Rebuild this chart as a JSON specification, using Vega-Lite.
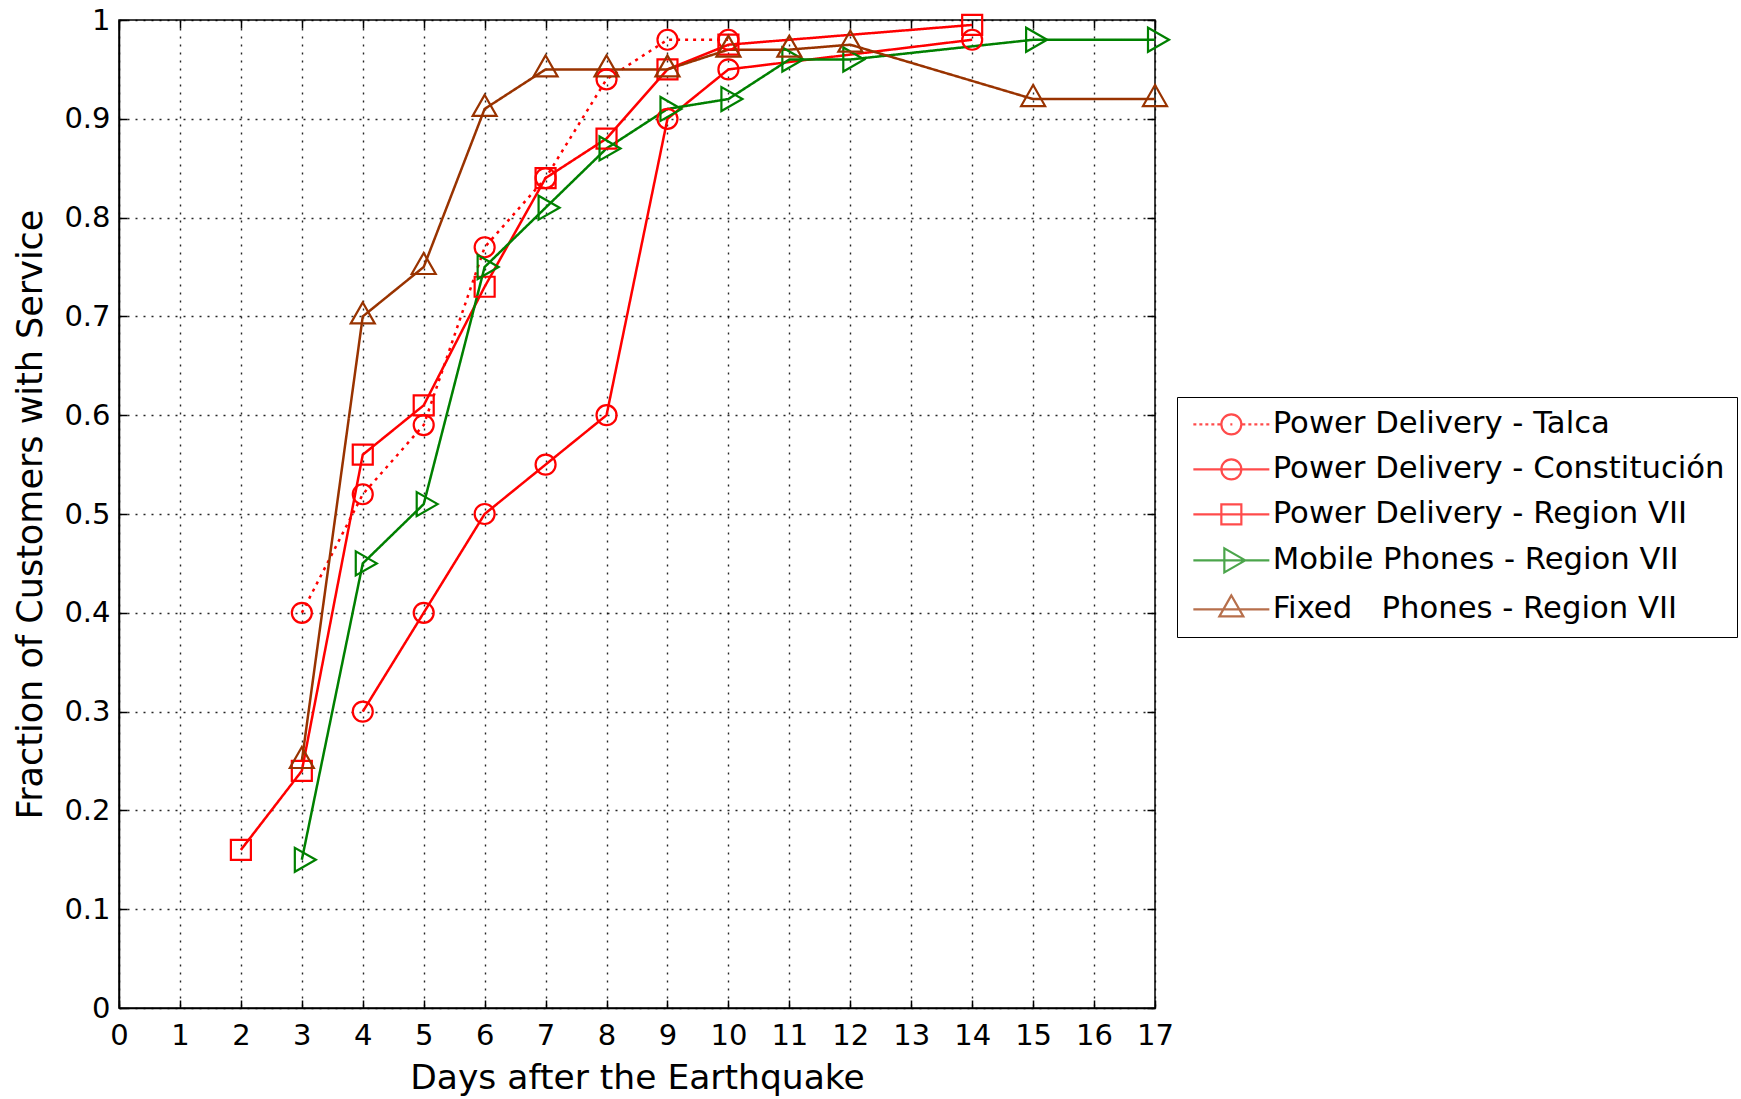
{
  "$schema": "https://vega.github.io/schema/vega-lite/v6.json",
  "width": 1036,
  "height": 988,
  "autosize": {"type": "none"},
  "padding": {"left": 119, "top": 20, "right": 586, "bottom": 91},
  "background": "white",
  "config": {
    "font": "DejaVu Sans",
    "view": {"stroke": "#000", "strokeWidth": 1.5},
    "axis": {
      "domainColor": "#000", "domainWidth": 1.5,
      "gridColor": "#000", "gridDash": [2, 6], "gridWidth": 1.4, "gridOpacity": 0.85,
      "labelColor": "#000", "labelFont": "DejaVu Sans",
      "titleColor": "#000", "titleFont": "DejaVu Sans", "titleFontWeight": "normal",
      "ticks": true, "tickSize": -8, "tickColor": "#000", "tickWidth": 1.5,
      "labelOverlap": false, "labelFlush": false
    }
  },
  "data": {"values": [
    {"series": "Power Delivery - Talca", "day": 3, "value": 0.40},
    {"series": "Power Delivery - Talca", "day": 4, "value": 0.52},
    {"series": "Power Delivery - Talca", "day": 5, "value": 0.59},
    {"series": "Power Delivery - Talca", "day": 6, "value": 0.77},
    {"series": "Power Delivery - Talca", "day": 7, "value": 0.84},
    {"series": "Power Delivery - Talca", "day": 8, "value": 0.94},
    {"series": "Power Delivery - Talca", "day": 9, "value": 0.98},
    {"series": "Power Delivery - Talca", "day": 10, "value": 0.98},
    {"series": "Power Delivery - Constitución", "day": 4, "value": 0.30},
    {"series": "Power Delivery - Constitución", "day": 5, "value": 0.40},
    {"series": "Power Delivery - Constitución", "day": 6, "value": 0.50},
    {"series": "Power Delivery - Constitución", "day": 7, "value": 0.55},
    {"series": "Power Delivery - Constitución", "day": 8, "value": 0.60},
    {"series": "Power Delivery - Constitución", "day": 9, "value": 0.90},
    {"series": "Power Delivery - Constitución", "day": 10, "value": 0.95},
    {"series": "Power Delivery - Constitución", "day": 14, "value": 0.98},
    {"series": "Power Delivery - Region VII", "day": 2, "value": 0.16},
    {"series": "Power Delivery - Region VII", "day": 3, "value": 0.24},
    {"series": "Power Delivery - Region VII", "day": 4, "value": 0.56},
    {"series": "Power Delivery - Region VII", "day": 5, "value": 0.61},
    {"series": "Power Delivery - Region VII", "day": 6, "value": 0.73},
    {"series": "Power Delivery - Region VII", "day": 7, "value": 0.84},
    {"series": "Power Delivery - Region VII", "day": 8, "value": 0.88},
    {"series": "Power Delivery - Region VII", "day": 9, "value": 0.95},
    {"series": "Power Delivery - Region VII", "day": 10, "value": 0.975},
    {"series": "Power Delivery - Region VII", "day": 14, "value": 0.995},
    {"series": "Mobile Phones - Region VII", "day": 3, "value": 0.15},
    {"series": "Mobile Phones - Region VII", "day": 4, "value": 0.45},
    {"series": "Mobile Phones - Region VII", "day": 5, "value": 0.51},
    {"series": "Mobile Phones - Region VII", "day": 6, "value": 0.75},
    {"series": "Mobile Phones - Region VII", "day": 7, "value": 0.81},
    {"series": "Mobile Phones - Region VII", "day": 8, "value": 0.87},
    {"series": "Mobile Phones - Region VII", "day": 9, "value": 0.91},
    {"series": "Mobile Phones - Region VII", "day": 10, "value": 0.92},
    {"series": "Mobile Phones - Region VII", "day": 11, "value": 0.96},
    {"series": "Mobile Phones - Region VII", "day": 12, "value": 0.96},
    {"series": "Mobile Phones - Region VII", "day": 15, "value": 0.98},
    {"series": "Mobile Phones - Region VII", "day": 17, "value": 0.98},
    {"series": "Fixed\u00a0\u00a0\u00a0Phones - Region VII", "day": 3, "value": 0.25},
    {"series": "Fixed\u00a0\u00a0\u00a0Phones - Region VII", "day": 4, "value": 0.70},
    {"series": "Fixed\u00a0\u00a0\u00a0Phones - Region VII", "day": 5, "value": 0.75},
    {"series": "Fixed\u00a0\u00a0\u00a0Phones - Region VII", "day": 6, "value": 0.91},
    {"series": "Fixed\u00a0\u00a0\u00a0Phones - Region VII", "day": 7, "value": 0.95},
    {"series": "Fixed\u00a0\u00a0\u00a0Phones - Region VII", "day": 8, "value": 0.95},
    {"series": "Fixed\u00a0\u00a0\u00a0Phones - Region VII", "day": 9, "value": 0.95},
    {"series": "Fixed\u00a0\u00a0\u00a0Phones - Region VII", "day": 10, "value": 0.97},
    {"series": "Fixed\u00a0\u00a0\u00a0Phones - Region VII", "day": 11, "value": 0.97},
    {"series": "Fixed\u00a0\u00a0\u00a0Phones - Region VII", "day": 12, "value": 0.975},
    {"series": "Fixed\u00a0\u00a0\u00a0Phones - Region VII", "day": 15, "value": 0.92},
    {"series": "Fixed\u00a0\u00a0\u00a0Phones - Region VII", "day": 17, "value": 0.92}
  ]},
  "resolve": {
    "scale": {"color": "independent", "shape": "independent", "strokeDash": "independent"},
    "axis": {"x": "independent", "y": "independent"}
  },
  "layer": [
    {
      "mark": {"type": "line", "strokeWidth": 2.5},
      "encoding": {
        "x": {"field": "day", "type": "quantitative",
          "scale": {"domain": [0, 17], "nice": false, "zero": false},
          "axis": {"values": [0,1,2,3,4,5,6,7,8,9,10,11,12,13,14,15,16,17], "format": "d", "grid": true,
            "labelFontSize": 29, "labelPadding": 21, "title": "Days after the Earthquake", "titleFontSize": 34.5, "titlePadding": 11}},
        "y": {"field": "value", "type": "quantitative",
          "scale": {"domain": [0, 1], "nice": false},
          "axis": {"values": [0,0.1,0.2,0.3,0.4,0.5,0.6,0.7,0.8,0.9,1], "format": "~g", "grid": true,
            "labelFontSize": 29, "labelPadding": 17, "title": "Fraction of Customers with Service", "titleFontSize": 35, "titlePadding": 15}},
        "color": {"field": "series", "type": "nominal",
          "scale": {"domain": ["Power Delivery - Talca", "Power Delivery - Constitución", "Power Delivery - Region VII", "Mobile Phones - Region VII", "Fixed\u00a0\u00a0\u00a0Phones - Region VII"],
                    "range": ["#ff0000", "#ff0000", "#ff0000", "#008000", "#993300"]}, "legend": null},
        "strokeDash": {"field": "series", "type": "nominal",
          "scale": {"domain": ["Power Delivery - Talca", "Power Delivery - Constitución", "Power Delivery - Region VII", "Mobile Phones - Region VII", "Fixed\u00a0\u00a0\u00a0Phones - Region VII"],
                    "range": [[3, 5], [1, 0], [1, 0], [1, 0], [1, 0]]}, "legend": null}
      }
    },
    {
      "mark": {"type": "point", "filled": false, "size": 400, "strokeWidth": 2.2, "opacity": 1},
      "encoding": {
        "x": {"field": "day", "type": "quantitative", "axis": null},
        "y": {"field": "value", "type": "quantitative", "axis": null},
        "color": {"field": "series", "type": "nominal",
          "scale": {"domain": ["Power Delivery - Talca", "Power Delivery - Constitución", "Power Delivery - Region VII", "Mobile Phones - Region VII", "Fixed\u00a0\u00a0\u00a0Phones - Region VII"],
                    "range": ["#ff0000", "#ff0000", "#ff0000", "#008000", "#993300"]}, "legend": null},
        "shape": {"field": "series", "type": "nominal",
          "scale": {"domain": ["Power Delivery - Talca", "Power Delivery - Constitución", "Power Delivery - Region VII", "Mobile Phones - Region VII", "Fixed\u00a0\u00a0\u00a0Phones - Region VII"],
                    "range": ["circle", "circle", "square", "M1.4,0L-0.7,-1.2L-0.7,1.2Z", "M0,-1.4L-1.2,0.7L1.2,0.7Z"]}, "legend": null}
      }
    },
    {
      "transform": [{"filter": "false"}],
      "mark": {"type": "point", "filled": false, "size": 400, "strokeWidth": 2},
      "encoding": {
        "x": {"field": "day", "type": "quantitative",
          "axis": {"orient": "top", "values": [0,1,2,3,4,5,6,7,8,9,10,11,12,13,14,15,16,17], "labels": false, "title": null, "grid": false, "domain": false}},
        "y": {"field": "value", "type": "quantitative",
          "axis": {"orient": "right", "values": [0,0.1,0.2,0.3,0.4,0.5,0.6,0.7,0.8,0.9,1], "labels": false, "title": null, "grid": false, "domain": false}},
        "color": {"field": "series", "type": "nominal",
          "scale": {"domain": ["Power Delivery - Talca", "Power Delivery - Constitución", "Power Delivery - Region VII", "Mobile Phones - Region VII", "Fixed\u00a0\u00a0\u00a0Phones - Region VII"],
                    "range": ["#ff0000", "#ff0000", "#ff0000", "#008000", "#993300"]},
          "legend": {"title": null, "orient": "none", "legendX": 1058, "legendY": 377, "direction": "vertical",
            "labelFontSize": 30.7, "labelFont": "DejaVu Sans", "labelColor": "#000", "labelLimit": 800,
            "symbolSize": 400, "symbolStrokeWidth": 2.2, "symbolOffset": 27, "labelOffset": 26,
            "rowPadding": 13, "padding": 12, "strokeColor": "#000", "fillColor": "#fff"}},
        "shape": {"field": "series", "type": "nominal",
          "scale": {"domain": ["Power Delivery - Talca", "Power Delivery - Constitución", "Power Delivery - Region VII", "Mobile Phones - Region VII", "Fixed\u00a0\u00a0\u00a0Phones - Region VII"],
                    "range": [
                      "M-3.8,0H-3.5M-3.2,0H-2.9M-2.6,0H-2.3M-2,0H-1.7M-1.4,0H-1.1M1.1,0H1.4M1.7,0H2M2.3,0H2.6M2.9,0H3.2M3.5,0H3.8M-0.1,0H0.1M1,0A1,1,0,1,1,-1,0A1,1,0,1,1,1,0Z",
                      "M-3.8,0H3.8M1,0A1,1,0,1,1,-1,0A1,1,0,1,1,1,0Z",
                      "M-3.8,0H3.8M-1,-1H1V1H-1Z",
                      "M-3.8,0H3.8M1.4,0L-0.7,-1.2L-0.7,1.2Z",
                      "M-3.8,0H3.8M0,-1.4L-1.2,0.7L1.2,0.7Z"
                    ]},
          "legend": {"title": null, "orient": "none", "legendX": 1058, "legendY": 377, "direction": "vertical",
            "labelFontSize": 30.7, "labelFont": "DejaVu Sans", "labelColor": "#000", "labelLimit": 800,
            "symbolSize": 400, "symbolStrokeWidth": 2.2, "symbolOffset": 27, "labelOffset": 26,
            "rowPadding": 13, "padding": 12, "strokeColor": "#000", "fillColor": "#fff"}}
      }
    }
  ]
}
